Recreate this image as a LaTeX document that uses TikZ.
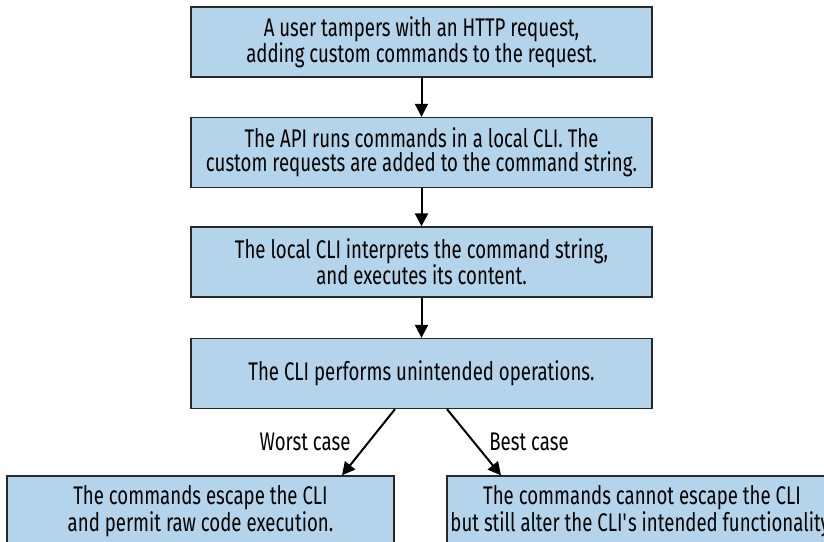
\documentclass[tikz,border=0pt]{standalone}
\usepackage{fontspec}
\setmainfont[FakeStretch=0.73]{Fira Sans}
\usetikzlibrary{arrows.meta}
\definecolor{boxblue}{RGB}{179,212,234}
\definecolor{edge}{RGB}{40,40,40}
\begin{document}
\begin{tikzpicture}[x=1pt,y=-1pt,
  box/.style={draw=edge, line width=1.3pt, fill=boxblue, minimum height=70pt,
    align=center, inner sep=0pt, font=\fontsize{25.5}{23.5}\selectfont},
  conn/.style={line width=2pt, -{Triangle[width=13pt,length=13pt]}},
  lbl/.style={font=\fontsize{25.5}{23.5}\selectfont, inner sep=0pt}]
\useasboundingbox (0,0) rectangle (824,541);
\begin{scope}
\clip (0,0) rectangle (824,541);
\node[box, minimum width=461pt] (b1) at (421.5,42) {A user tampers with an HTTP request,\\adding custom commands to the request.};
\node[box, minimum width=461pt] (b2) at (421.5,152.5) {The API runs commands in a local CLI. The\\custom requests are added to the command string.};
\node[box, minimum width=461pt] (b3) at (421.5,262) {The local CLI interprets the command string,\\and executes its content.};
\node[box, minimum width=461pt] (b4) at (421.5,373.5) {The CLI performs unintended operations.};
\node[box, minimum width=387pt] (bl) at (200.5,511) {The commands escape the CLI\\and permit raw code execution.};
\node[box, minimum width=390pt] (br) at (642,511) {The commands cannot escape the CLI\\but still alter the CLI\textquotesingle s intended functionality.};
\draw[conn] (b1.south) -- (b2.north);
\draw[conn] (b2.south) -- (b3.north);
\draw[conn] (b3.south) -- (b4.north);
\draw[conn] ([xshift=-26.5pt]b4.south) -- ([xshift=141.5pt]bl.north);
\draw[conn] ([xshift=25.5pt]b4.south) -- ([xshift=-141pt]br.north);
\node[lbl] (lw) at (305,442) {Worst case};
\node[lbl] (lb) at (529,442) {Best case};
\end{scope}
\end{tikzpicture}
\end{document}
